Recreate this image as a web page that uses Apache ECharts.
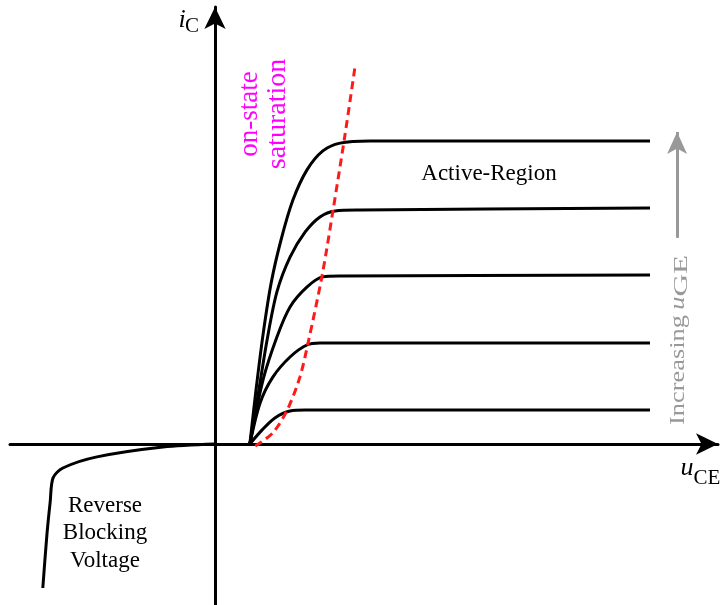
<!DOCTYPE html>
<html>
<head>
<meta charset="utf-8">
<script src="https://cdn.jsdelivr.net/npm/echarts@6/dist/echarts.min.js"></script>
<style>
  html, body { margin: 0; padding: 0; background: #fff; }
  #chart { width: 723px; height: 605px; }
</style>
</head>
<body>
<div id="chart"></div>
<script>
// IGBT output characteristic: i_C versus u_CE (schematic units)

// forward output curves, one per gate voltage step [u_CE, i_C]
const curveGE1 = [[0.85, 0], [1.15, 0.47], [1.46, 0.87], [1.83, 1.10], [2.20, 1.13], [10.61, 1.13]];
const curveGE2 = [[0.85, 0], [1.10, 1.37], [1.41, 2.23], [1.83, 2.90], [2.24, 3.30], [2.56, 3.37], [10.61, 3.37]];
const curveGE3 = [[0.85, 0], [1.17, 2.13], [1.51, 3.57], [1.83, 4.57], [2.24, 5.23], [2.63, 5.57], [3.05, 5.60], [10.61, 5.63]];
const curveGE4 = [[0.85, 0], [1.05, 1.63], [1.27, 3.47], [1.51, 5.07], [1.83, 6.23], [2.20, 7.07], [2.56, 7.57], [2.93, 7.77], [3.54, 7.80], [10.61, 7.87]];
const curveGE5 = [[0.85, 0], [1.00, 1.80], [1.17, 3.63], [1.37, 5.37], [1.61, 6.80], [1.90, 8.13], [2.24, 9.13], [2.63, 9.77], [3.05, 10.03], [3.78, 10.10], [10.61, 10.10]];

// on-state saturation boundary
const saturationLine = [[0.98, -0.07], [1.41, 0.37], [1.76, 1.13], [2.07, 2.23], [2.27, 3.37], [2.61, 5.60], [2.88, 7.80], [3.17, 10.30], [3.41, 12.53]];

// reverse blocking branch
const reverseCurve = [[-4.20, -4.80], [-4.10, -3.03], [-4.02, -1.93], [-3.95, -1.13], [-3.71, -0.80], [-2.88, -0.43], [-1.27, -0.10], [0, 0]];

// "Increasing u_GE" arrow, from tail to head
const gateArrow = [[11.27, 6.87], [11.27, 10.40]];

// axis extents
const uMin = -5, uMax = 12.268;
const iMin = -5.367, iMax = 14.567;

const serif = '"Liberation Serif", "Times New Roman", serif';
const chart = echarts.init(document.getElementById('chart'));

function curve(data, color, dashed) {
  return {
    type: 'line',
    data: data,
    smooth: 0.3,
    showSymbol: false,
    symbol: 'none',
    silent: true,
    animation: false,
    lineStyle: {
      color: color,
      width: 3,
      type: dashed ? [8, 5] : 'solid',
      cap: 'butt'
    },
    z: dashed ? 5 : 3
  };
}

const hiddenAxisParts = {
  axisTick: { show: false },
  axisLabel: { show: false },
  splitLine: { show: false }
};

const axisLineStyle = {
  onZero: true,
  symbol: ['none', 'arrow'],
  symbolSize: [16, 22],
  lineStyle: { color: '#000', width: 3 }
};

chart.setOption({
  animation: false,
  backgroundColor: '#fff',
  grid: { left: 10, right: 5, top: 7, bottom: 0 },
  xAxis: Object.assign({ type: 'value', min: uMin, max: uMax, axisLine: axisLineStyle }, hiddenAxisParts),
  yAxis: Object.assign({ type: 'value', min: iMin, max: iMax, axisLine: axisLineStyle }, hiddenAxisParts),
  series: [
    curve(reverseCurve, '#000'),
    curve(curveGE1, '#000'),
    curve(curveGE2, '#000'),
    curve(curveGE3, '#000'),
    curve(curveGE4, '#000'),
    curve(curveGE5, '#000'),
    curve(saturationLine, '#ff1a1a', true),
    {
      type: 'line',
      data: [],
      silent: true,
      markLine: {
        silent: true,
        animation: false,
        symbol: ['none', 'arrow'],
        symbolSize: [15, 22],
        label: { show: false },
        lineStyle: { color: '#999', width: 3, type: 'solid' },
        data: [[{ coord: gateArrow[0] }, { coord: gateArrow[1] }]]
      }
    }
  ],
  graphic: [
    // axis names
    { type: 'text', x: 182, y: 20, style: { text: 'i', font: 'italic 26px ' + serif, fill: '#000', align: 'center', verticalAlign: 'middle' } },
    { type: 'text', x: 192, y: 26, style: { text: 'C', font: '21px ' + serif, fill: '#000', align: 'center', verticalAlign: 'middle' } },
    { type: 'text', x: 687, y: 468, style: { text: 'u', font: 'italic 26px ' + serif, fill: '#000', align: 'center', verticalAlign: 'middle' } },
    { type: 'text', x: 707, y: 478, style: { text: 'CE', font: '21px ' + serif, fill: '#000', align: 'center', verticalAlign: 'middle' } },
    // region labels
    { type: 'text', x: 489, y: 174, style: { text: 'Active-Region', font: '23px ' + serif, fill: '#000', align: 'center', verticalAlign: 'middle' } },
    { type: 'text', x: 105, y: 506, style: { text: 'Reverse', font: '23px ' + serif, fill: '#000', align: 'center', verticalAlign: 'middle' } },
    { type: 'text', x: 105, y: 533, style: { text: 'Blocking', font: '23px ' + serif, fill: '#000', align: 'center', verticalAlign: 'middle' } },
    { type: 'text', x: 105, y: 561, style: { text: 'Voltage', font: '23px ' + serif, fill: '#000', align: 'center', verticalAlign: 'middle' } },
    // saturation boundary label
    { type: 'text', x: 250, y: 114, rotation: Math.PI / 2, style: { text: 'on-state', font: '27px ' + serif, fill: '#ff00ff', align: 'center', verticalAlign: 'middle' } },
    { type: 'text', x: 278, y: 114, rotation: Math.PI / 2, style: { text: 'saturation', font: '28px ' + serif, fill: '#ff00ff', align: 'center', verticalAlign: 'middle' } },
    // gate voltage annotation
    {
      type: 'group', x: 678, y: 425, rotation: Math.PI / 2, scaleX: 1.2,
      children: [
        { type: 'text', x: 0, y: 0, style: { text: 'Increasing', font: '22px ' + serif, fill: '#999', align: 'left', verticalAlign: 'middle' } },
        { type: 'text', x: 96, y: 0, style: { text: 'u', font: 'italic 22px ' + serif, fill: '#999', align: 'left', verticalAlign: 'middle' } },
        { type: 'text', x: 107, y: 4, scaleX: 1.45, style: { text: 'GE', font: '18px ' + serif, fill: '#999', align: 'left', verticalAlign: 'middle' } }
      ]
    }
  ]
});
</script>
</body>
</html>
